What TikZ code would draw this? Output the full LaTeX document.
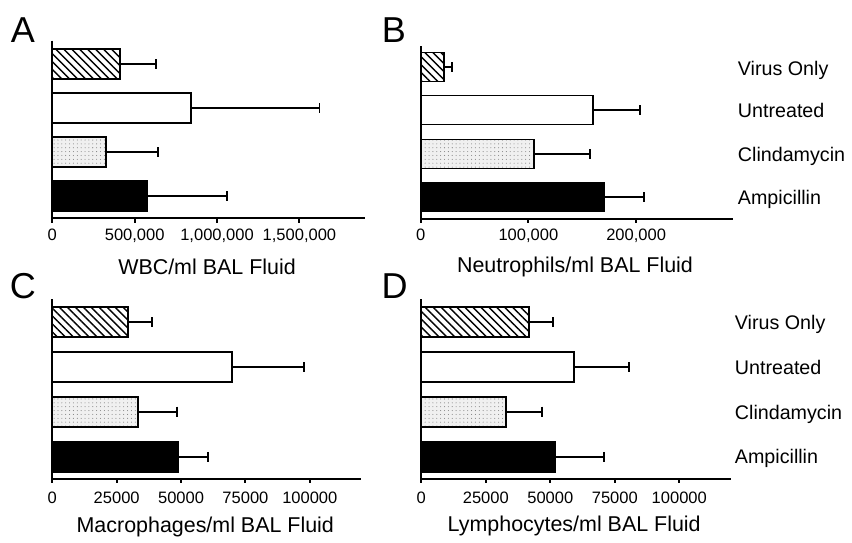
\documentclass[tikz,border=0pt]{standalone}
\usepackage{fontspec}
\setmainfont{Liberation Sans}
\usetikzlibrary{patterns.meta}

\begin{document}
\begin{tikzpicture}[x=0.02cm,y=-0.02cm,line width=1.1pt,
  axis/.style={line width=1.1pt},
  virus/.style={draw,pattern={Lines[angle=-45,distance=3.2pt,line width=0.8pt]}},
  untreated/.style={draw,fill=white},
  clinda/.style={draw,preaction={fill=gray!12},pattern={Dots[radius=0.3pt,distance=2.2pt]},pattern color=gray},
  ampi/.style={draw,fill=black},
  errbar/.style={line width=1.1pt},
  ticklab/.style={anchor=base,font=\fontsize{9.4}{11}\selectfont},
  axtitle/.style={anchor=base,font=\fontsize{12.2}{14}\selectfont},
  grplab/.style={anchor=base west,inner sep=0pt,font=\fontsize{11.2}{13}\selectfont},
  panlab/.style={anchor=base,font=\fontsize{20.5}{24}\selectfont}]
\useasboundingbox (0,0) rectangle (852,542);

% panel A
\begin{scope}[shift={(52.3,0)},x=0.003292cm]
\draw[axis] (0,40.7) -- (0,218.3) -- (1900,218.3);
\foreach \t/\lab in {0/0,500/{500,000},1000/{1,000,000},1500/{1,500,000}}
  \draw[axis] (\t,218.3) -- (\t,222.5) node (ta\t) [ticklab] at (\t,240.5) {\lab};
\foreach \yc/\val/\err/\sty in {64/411/630/virus,108/841/1622/untreated,152/326/640/clinda,196/573/1063/ampi} {
  \draw[\sty] (0,\yc-15) rectangle (\val,\yc+15);
  \draw[errbar] (\val,\yc) -- (\err,\yc) (\err,\yc-5) -- (\err,\yc+5);
}
\end{scope}
\node (pa) [panlab] at (23,42.7) {A};
\node (xa) [axtitle] at (207,274) {WBC/ml BAL Fluid};

% panel B
\begin{scope}[shift={(420.7,0)},x=0.02154cm]
\draw[axis] (0,46) -- (0,219) -- (290,219);
\foreach \t/\lab in {0/0,100/{100,000},200/{200,000}}
  \draw[axis] (\t,219) -- (\t,223.2) node (tb\t) [ticklab] at (\t,240.5) {\lab};
\foreach \yc/\val/\err/\sty in {67/22/29/virus,110/160/204/untreated,154/105/157/clinda,197/170/207/ampi} {
  \draw[\sty] (0,\yc-14.5) rectangle (\val,\yc+14.5);
  \draw[errbar] (\val,\yc) -- (\err,\yc) (\err,\yc-5) -- (\err,\yc+5);
}
\end{scope}
\node (pb) [panlab] at (394,42.7) {B};
\node (xb) [axtitle] at (575,272.5) {Neutrophils/ml BAL Fluid};
\node (gb1) [grplab] at (737,75) {Virus Only};
\node (gb2) [grplab] at (737,117.5) {Untreated};
\node (gb3) [grplab] at (737,161.5) {Clindamycin};
\node (gb4) [grplab] at (737,204.5) {Ampicillin};

% panel C
\begin{scope}[shift={(52.3,0)},x=0.05152cm]
\draw[axis] (0,299.3) -- (0,479) -- (120,479);
\foreach \t/\lab in {0/0,25/25000,50/50000,75/75000,100/100000}
  \draw[axis] (\t,479) -- (\t,483.2) node (tc\t) [ticklab] at (\t,503.2) {\lab};
\foreach \yc/\val/\err/\sty in {322.3/29.5/38.6/virus,367.2/69.6/97.8/untreated,411.7/33.1/48.3/clinda,456.8/48.7/60.6/ampi} {
  \draw[\sty] (0,\yc-15) rectangle (\val,\yc+15);
  \draw[errbar] (\val,\yc) -- (\err,\yc) (\err,\yc-5) -- (\err,\yc+5);
}
\end{scope}
\node (pc) [panlab] at (23,298.3) {C};
\node (xc) [axtitle] at (205.3,532.5) {Macrophages/ml BAL Fluid};

% panel D
\begin{scope}[shift={(421.3,0)},x=0.0516cm]
\draw[axis] (0,299.3) -- (0,479) -- (120,479);
\foreach \t/\lab in {0/0,25/25000,50/50000,75/75000,100/100000}
  \draw[axis] (\t,479) -- (\t,483.2) node (td\t) [ticklab] at (\t,503.2) {\lab};
\foreach \yc/\val/\err/\sty in {322.3/41.7/50.9/virus,367.2/59.2/80.6/untreated,411.7/32.7/46.9/clinda,456.8/51.7/70.8/ampi} {
  \draw[\sty] (0,\yc-15) rectangle (\val,\yc+15);
  \draw[errbar] (\val,\yc) -- (\err,\yc) (\err,\yc-5) -- (\err,\yc+5);
}
\end{scope}
\node (pd) [panlab] at (394.7,298.3) {D};
\node (xd) [axtitle] at (574.2,531.8) {Lymphocytes/ml BAL Fluid};
\node (gd1) [grplab] at (734,329.6) {Virus Only};
\node (gd2) [grplab] at (734,374) {Untreated};
\node (gd3) [grplab] at (734,419) {Clindamycin};
\node (gd4) [grplab] at (734,463) {Ampicillin};
\end{tikzpicture}
\end{document}
